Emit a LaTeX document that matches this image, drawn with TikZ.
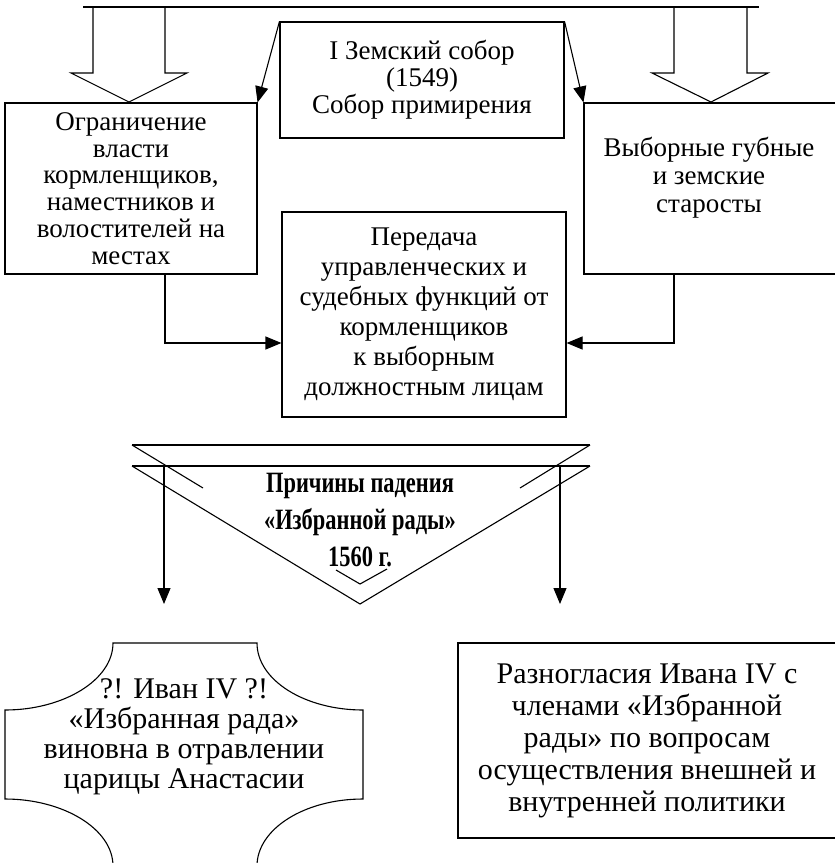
\documentclass[tikz,border=0pt]{standalone}
\usepackage{fontspec}
\setmainfont{Liberation Serif}
\newfontfamily\narrowserif{Liberation Serif}[FakeStretch=0.76]
\usetikzlibrary{arrows.meta,calc}
\begin{document}
\begin{tikzpicture}[x=1pt,y=-1pt,line width=1.1pt,
  box/.style={draw,inner sep=0pt,align=center},
  txt/.style={inner sep=0pt,align=center},
  arr/.style={-{Triangle[length=16pt,width=13pt]}}]
\useasboundingbox (0,0) rectangle (835,863);
\clip (0,0) rectangle (835,863);

% top block arrows
\draw (83,7) -- (759,7);
\draw (93,7) -- (93,73) -- (71,73) -- (129,102) -- (187,73) -- (165,73) -- (165,7);
\draw (674,7) -- (674,73) -- (652,73) -- (711,102) -- (768,73) -- (747,73) -- (747,7);

% boxes
\node[box,minimum width=284pt,minimum height=116pt,font=\fontsize{27}{27}\selectfont] (cb) at (422,80)
  {I Земский собор\\(1549)\\Собор примирения};
\node[box,minimum width=252pt,minimum height=171pt,font=\fontsize{27}{26.7}\selectfont] (lb) at (131,188.5)
  {Ограничение\\власти\\кормленщиков,\\наместников и\\волостителей на\\местах};
\node[box,minimum width=252pt,minimum height=171pt] (rb) at (710,188.5) {};
\node[txt,font=\fontsize{27}{28}\selectfont] (rbt) at (709,178)
  {Выборные губные\\и земские\\старосты};
\node[box,minimum width=284pt,minimum height=205pt,font=\fontsize{27}{30}\selectfont] (mb) at (424,314.5)
  {Передача\\управленческих и\\судебных функций от\\кормленщиков\\к выборным\\должностным лицам};

\draw[arr] (cb.north west) -- (lb.north east);
\draw[arr] (cb.north east) -- (rb.north west);
\draw[arr] ([xshift=34pt]lb.south) |- ([yshift=-28.5pt]mb.west);
\draw[arr] ([xshift=-36pt]rb.south) |- ([yshift=-28.5pt]mb.east);

% triangle
\draw (132,445) -- (590,445);
\draw (132,466) -- (590,466);
\draw (132,466) -- (360,604) -- (590,466);
\draw (132,445) -- (203,488);
\draw (590,445) -- (520,488);
\draw (336,570) -- (360,584) -- (387,569);
\node[txt,font=\fontsize{29.5}{37}\selectfont\narrowserif\bfseries] (tt) at (360,520)
  {Причины падения\\«Избранной рады»\\1560 г.};
\coordinate (la1) at (164,466);
\coordinate (la2) at (164,604);
\coordinate (ra1) at (560,466);
\coordinate (ra2) at (560,604);
\draw[arr] (la1) -- (la2);
\draw[arr] (ra1) -- (ra2);

% bottom left plaque
\draw (113,643) -- (257,643)
  .. controls (257,680) and (304.5,710) .. (363,710)
  -- (363,799)
  .. controls (304.5,799) and (257,829) .. (257,866)
  -- (113,866)
  .. controls (113,829) and (63.5,799) .. (5,799)
  -- (5,710)
  .. controls (63.5,710) and (113,680) .. (113,643) -- cycle;
\node[txt,font=\fontsize{30}{30}\selectfont] (blt) at (184,737)
  {?! Иван IV ?!\\«Избранная рада»\\виновна в отравлении\\царицы Анастасии};

% bottom right box
\node[box,minimum width=378pt,minimum height=195pt,font=\fontsize{30}{32}\selectfont] (brb) at (647,740.5)
  {Разногласия Ивана IV с\\членами «Избранной\\рады» по вопросам\\осуществления внешней и\\внутренней политики};
\end{tikzpicture}
\end{document}
